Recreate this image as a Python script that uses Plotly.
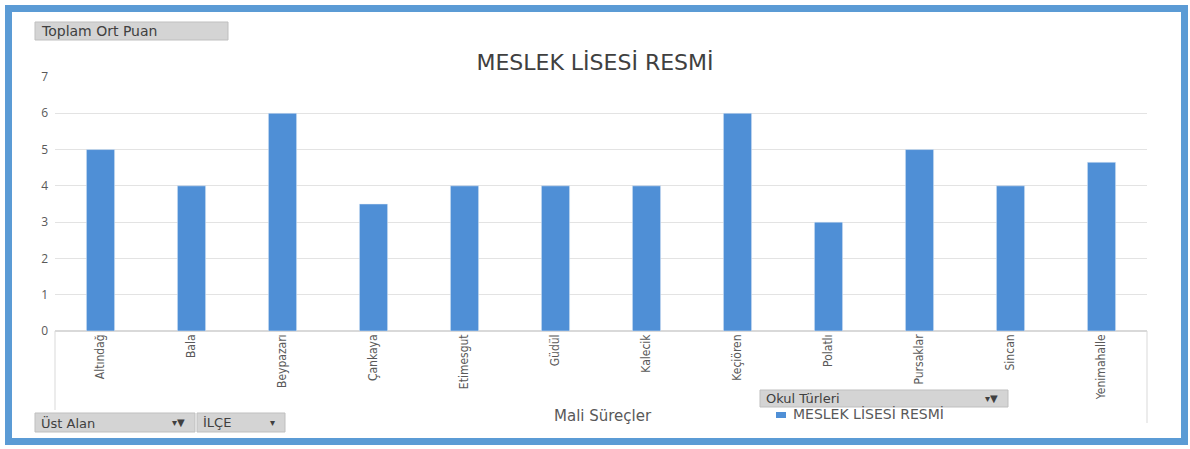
import plotly.graph_objects as go

categories = ["Altındağ", "Bala", "Beypazarı", "Çankaya", "Etimesgut", "Güdül",
              "Kalecik", "Keçiören", "Polatlı", "Pursaklar", "Sincan", "Yenimahalle"]
values = [5, 4, 6, 3.5, 4, 4, 4, 6, 3, 5, 4, 4.65]
series_name = "MESLEK LİSESİ RESMİ"
y_ticks = [0, 1, 2, 3, 4, 5, 6, 7]

W, H = 1190, 449
ML, MR, MT, MB = 55, 43, 77, 118
BAR = "#4F8FD6"
GRAY = "#595959"
WIDE = "DejaVu Sans, Verdana, sans-serif"

fig = go.Figure()
fig.add_trace(go.Bar(x=categories, y=values, name=series_name, marker_color=BAR,
                     width=0.31, showlegend=False))

def px(x):
    return (x - ML) / (W - ML - MR)

def py(y):
    return (H - MB - y) / (H - MT - MB)

shapes = []
annotations = []
# outer blue frame
shapes.append(dict(type="rect", xref="paper", yref="paper", x0=px(8.5), x1=px(1184.5),
                   y0=py(441.5), y1=py(8.5), line=dict(color="#5B9BD5", width=7),
                   fillcolor="rgba(0,0,0,0)", layer="above"))
# category axis side lines
shapes.append(dict(type="line", xref="paper", yref="paper", x0=px(55), x1=px(55),
                   y0=py(331), y1=py(410), line=dict(color="#D9D9D9", width=1)))
shapes.append(dict(type="line", xref="paper", yref="paper", x0=px(1147), x1=px(1147),
                   y0=py(331), y1=py(423), line=dict(color="#D9D9D9", width=1)))

def button(x0, x1, y0, y1, text, icon=None, size=13):
    shapes.append(dict(type="rect", xref="paper", yref="paper", x0=px(x0), x1=px(x1),
                       y0=py(y1), y1=py(y0), line=dict(color="#BFBFBF", width=1),
                       fillcolor="#D4D4D4", layer="above"))
    annotations.append(dict(x=px(x0 + 4), y=py((y0 + y1) / 2), xref="paper", yref="paper",
                            text=text, showarrow=False, xanchor="left", yanchor="middle",
                            font=dict(family=WIDE, size=size, color="#404040")))
    if icon:
        annotations.append(dict(x=px(x1 - 8), y=py((y0 + y1) / 2), xref="paper", yref="paper",
                                text=icon, showarrow=False, xanchor="right", yanchor="middle",
                                font=dict(family="DejaVu Sans", size=10, color="#404040")))

button(35, 228, 22, 40, "Toplam Ort Puan", size=14)
button(35, 195, 413, 432, "Üst Alan", "▾▼")
button(197, 285, 413, 432, "İLÇE", "▾")
button(760, 1008, 390, 407, "Okul Türleri", "▾▼")

# legend
shapes.append(dict(type="rect", xref="paper", yref="paper", x0=px(776), x1=px(786),
                   y0=py(418), y1=py(412), fillcolor=BAR, line=dict(width=0)))
annotations.append(dict(x=px(791), y=py(414), xref="paper", yref="paper", text=series_name,
                        showarrow=False, xanchor="left", yanchor="middle",
                        font=dict(family=WIDE, size=14, color=GRAY)))
# axis title
annotations.append(dict(x=px(603), y=py(416), xref="paper", yref="paper", text="Mali Süreçler",
                        showarrow=False, xanchor="center", yanchor="middle",
                        font=dict(family=WIDE, size=15, color=GRAY)))

fig.update_layout(
    width=W, height=H,
    margin=dict(l=ML, r=MR, t=MT, b=MB),
    paper_bgcolor="white", plot_bgcolor="white",
    title=dict(text="MESLEK LİSESİ RESMİ", x=0.5, xanchor="center", y=1 - 62 / H, yanchor="middle",
               font=dict(family=WIDE, size=22, color="#404040")),
    xaxis=dict(tickangle=-90, showgrid=False, showline=False, ticks="",
               tickfont=dict(family="DejaVu Sans Condensed, Liberation Sans Narrow, sans-serif",
                             size=12, color=GRAY)),
    yaxis=dict(range=[0, 7], tickvals=y_ticks, showgrid=True, gridcolor="#E3E3E3", gridwidth=1,
               zeroline=True, zerolinecolor="#D9D9D9", ticks="", ticklabelstandoff=6,
               tickfont=dict(family="Open Sans, sans-serif", size=12, color=GRAY)),
    shapes=shapes, annotations=annotations,
)

fig.write_html("out.html", config={"displayModeBar": False},
               post_script="document.body.style.margin='0';document.body.style.overflow='hidden';")
